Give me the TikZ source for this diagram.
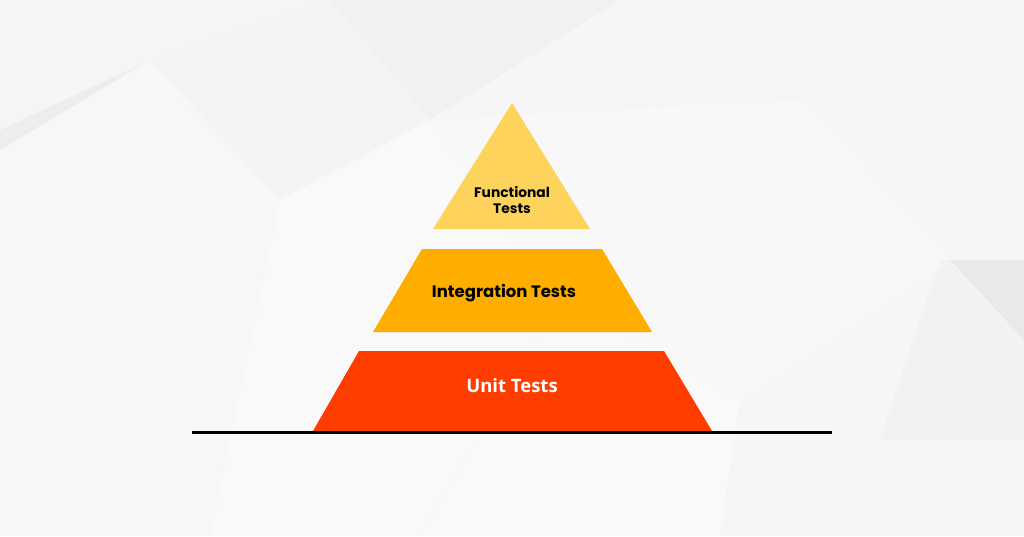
\documentclass[tikz,border=0pt]{standalone}
\usepackage{fontspec}
\newfontfamily\popfont{Poppins}
\newfontfamily\unitfont{Open Sans}
\definecolor{bgbase}{HTML}{EDEDED}
\definecolor{tyellow}{HTML}{FDD35C}
\definecolor{torange}{HTML}{FFAE00}
\definecolor{tred}{HTML}{FF3D00}
\tikzset{
  facet/.style={fill=white, opacity=#1},
  facetdark/.style={fill=black, opacity=#1},
  darklabel/.style={font=\popfont\bfseries, text=black, align=center, inner sep=0pt},
  lightlabel/.style={font=\unitfont\bfseries, text=white, inner sep=0pt},
}
\begin{document}
\begin{tikzpicture}[x=1pt,y=-1pt]
\useasboundingbox (0,0) rectangle (1024,536);
% background
\fill[bgbase] (0,0) rectangle (1024,536);
\fill[facet=0.45] (0,0) -- (330,0) -- (150,60) -- (0,130) -- cycle;
\fill[facet=0.6] (0,150) -- (150,60) -- (280,200) -- (210,536) -- (0,536) -- cycle;
\fill[facet=0.4] (150,60) -- (330,0) -- (620,0) -- (430,120) -- (280,200) -- cycle;
\fill[facet=0.7] (280,200) -- (430,120) -- (560,300) -- (420,536) -- (210,536) -- cycle;
\fill[facet=0.5] (620,0) -- (1024,0) -- (1024,120) -- (800,100) -- (430,120) -- cycle;
\fill[facet=0.65] (430,120) -- (800,100) -- (950,260) -- (740,400) -- (560,300) -- cycle;
\fill[facet=0.55] (800,100) -- (1024,120) -- (1024,260) -- (950,260) -- cycle;
\fill[facet=0.7] (560,300) -- (740,400) -- (720,536) -- (420,536) -- cycle;
\fill[facet=0.5] (740,400) -- (950,260) -- (1024,340) -- (1024,536) -- (720,536) -- cycle;
\fill[facetdark=0.015] (940,260) -- (1024,260) -- (1024,440) -- (880,440) -- cycle;
\fill[facetdark=0.012] (330,0) -- (620,0) -- (430,120) -- cycle;
% pyramid layers
\fill[tyellow] (512,103) -- (590,229) -- (433,229) -- cycle;
\fill[torange] (422,249) -- (602,249) -- (652,332) -- (373,332) -- cycle;
\fill[tred] (359,351) -- (664,351) -- (712,431) -- (313,431) -- cycle;
% labels
\node[darklabel, font=\popfont\bfseries\fontsize{13.8}{15.5}\selectfont] (func) at (512,200) {Functional\\Tests};
\node[darklabel, font=\popfont\bfseries\fontsize{16.5}{19}\selectfont] (integ) at (504,293) {Integration Tests};
\node[lightlabel, font=\unitfont\bfseries\fontsize{18.5}{21}\selectfont] (unit) at (512,386) {Unit Tests};
% ground line
\coordinate (gl) at (192,432);
\coordinate (gr) at (832,432);
\draw[line width=3pt, black] (gl) -- (gr);
\end{tikzpicture}
\end{document}
